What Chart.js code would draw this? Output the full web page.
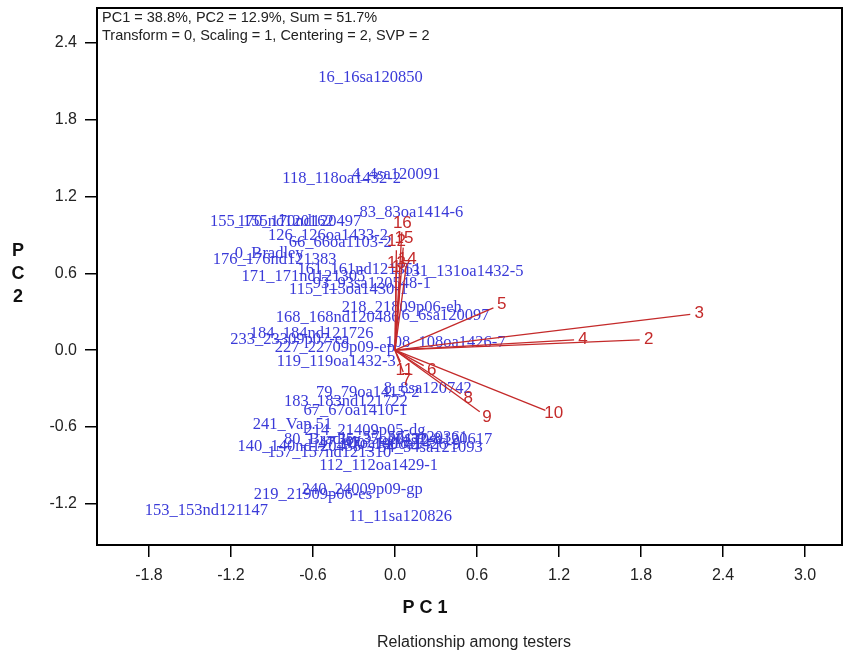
<!DOCTYPE html>
<html>
<head>
<meta charset="utf-8">
<script src="https://cdn.jsdelivr.net/npm/chart.js@4.4.1/dist/chart.umd.min.js"></script>
<style>
  body { margin: 0; background: #fff; }
  #wrap { width: 844px; height: 656px; }
</style>
</head>
<body>
<div id="wrap"><canvas id="biplot" width="844" height="656"></canvas></div>
<script>
// entries (blue labels) - position = centre of the label
const entryNames = [
  '16_16sa120850', '118_118oa1432-2', '4_4sa120091', '83_83oa1414-6',
  '155_155nd120162', '170_170nd120497', '126_126oa1433-2', '66_66oa1103-2',
  '176_176nd121383', '0_Bradley', '161_161nd121351', '131_131oa1432-5',
  '171_171nd121305', '93_93sa120548-1', '115_115oa1430-1', '218_21809p06-eh',
  '168_168nd120486', '6_6sa120097', '184_184nd121726', '233_23309p07-ea',
  '227_22709p09-ep', '108_108oa1426-7', '119_119oa1432-3', '79_79oa1415-2',
  '8_8sa120742', '183_183nd121722', '67_67oa1410-1', '241_Vap.51',
  '214_21409p05-dg', '140_140nd120435', '157_157nd121310', '80_Bradley',
  '47_47oa1418-1', '35_35oa1432-8', '100_100oa1426-9', '57_57sa120361',
  '54_54sa121093', '20_20sa120617', '112_112oa1429-1', '240_24009p09-gp',
  '219_21909p06-es', '153_153nd121147', '11_11sa120826'
];
const entryX = [
  -0.18, -0.39, 0.01, 0.12,
  -0.90, -0.70, -0.49, -0.40,
  -0.88, -0.92, -0.26, 0.50,
  -0.67, -0.17, -0.34, 0.05,
  -0.42, 0.37, -0.61, -0.77,
  -0.44, 0.37, -0.43, -0.20,
  0.24, -0.36, -0.29, -0.75,
  -0.22, -0.70, -0.48, -0.53,
  -0.18, -0.04, 0.04, 0.15,
  0.26, 0.33, -0.12, -0.24,
  -0.60, -1.38, 0.04
];
const entryY = [
  2.13, 1.34, 1.37, 1.07,
  1.00, 1.00, 0.89, 0.84,
  0.71, 0.75, 0.63, 0.61,
  0.57, 0.52, 0.47, 0.33,
  0.25, 0.27, 0.13, 0.08,
  0.02, 0.06, -0.09, -0.33,
  -0.30, -0.40, -0.47, -0.58,
  -0.63, -0.75, -0.80, -0.70,
  -0.73, -0.70, -0.74, -0.68,
  -0.76, -0.70, -0.90, -1.09,
  -1.13, -1.25, -1.30
];

// testers (red vectors from origin)
const testerNames = ['2', '3', '4', '5', '6', '7', '8', '9', '10', '11', '12', '13', '14', '15', '16', '17'];
const testerX = [1.79, 2.16, 1.31, 0.72, 0.21, 0.06, 0.48, 0.62, 1.10, 0.04, 0.01, 0.01, 0.08, 0.06, 0.05, 0.04];
const testerY = [0.08, 0.28, 0.08, 0.33, -0.12, -0.17, -0.34, -0.48, -0.47, -0.09, 0.78, 0.61, 0.64, 0.80, 0.92, 0.58];

const xTickValues = [-1.8, -1.2, -0.6, 0.0, 0.6, 1.2, 1.8, 2.4, 3.0];
const yTickValues = [-1.2, -0.6, 0.0, 0.6, 1.2, 1.8, 2.4];

const headerLines = [
  'PC1 = 38.8%, PC2 = 12.9%, Sum = 51.7%',
  'Transform = 0, Scaling = 1, Centering = 2, SVP = 2'
];
const xTitle = 'P C 1';
const yTitle = ['P', 'C', '2'];
const caption = 'Relationship among testers';

const blue = '#3a3ad8';
const red = '#c42a2a';

const datasets = [{
  label: 'entries',
  data: entryX.map((x, i) => ({ x: x, y: entryY[i] })),
  pointRadius: 0,
  showLine: false
}];
testerNames.forEach((name, i) => {
  datasets.push({
    label: 'tester ' + name,
    data: [{ x: 0, y: 0 }, { x: testerX[i], y: testerY[i] }],
    showLine: true,
    borderColor: red,
    borderWidth: 1.3,
    pointRadius: 0
  });
});

const biplotText = {
  id: 'biplotText',
  beforeDatasetsDraw(chart) {
    const ctx = chart.ctx;
    const meta = chart.getDatasetMeta(0);
    ctx.save();
    ctx.font = '16.5px "Liberation Serif", "Times New Roman", serif';
    ctx.fillStyle = blue;
    ctx.textAlign = 'center';
    ctx.textBaseline = 'middle';
    meta.data.forEach((pt, i) => ctx.fillText(entryNames[i], pt.x, pt.y));
    ctx.restore();
  },
  afterDatasetsDraw(chart) {
    const ctx = chart.ctx;
    const xs = chart.scales.x, ys = chart.scales.y;
    const ox = xs.getPixelForValue(0), oy = ys.getPixelForValue(0);
    ctx.save();
    ctx.font = '17px "Liberation Sans", Arial, sans-serif';
    ctx.fillStyle = red;
    ctx.textAlign = 'center';
    ctx.textBaseline = 'middle';
    testerNames.forEach((name, i) => {
      const ex = xs.getPixelForValue(testerX[i]);
      const ey = ys.getPixelForValue(testerY[i]);
      const dx = ex - ox, dy = ey - oy;
      const len = Math.hypot(dx, dy) || 1;
      ctx.fillText(name, ex + dx / len * 9, ey + dy / len * 9);
    });

    // frame
    const a = chart.chartArea;
    ctx.strokeStyle = '#000';
    ctx.lineWidth = 2;
    ctx.strokeRect(a.left, a.top, a.right - a.left, a.bottom - a.top);

    // header
    ctx.font = '14.5px "Liberation Sans", Arial, sans-serif';
    ctx.fillStyle = '#222';
    ctx.textAlign = 'left';
    headerLines.forEach((t, i) => ctx.fillText(t, a.left + 5, a.top + 10 + i * 18));
    ctx.restore();
  },
  afterDraw(chart) {
    const ctx = chart.ctx;
    ctx.save();
    ctx.fillStyle = '#111';
    ctx.textAlign = 'center';
    ctx.textBaseline = 'middle';
    ctx.font = 'bold 18px "Liberation Sans", Arial, sans-serif';
    ctx.fillText(xTitle, 425, 608);
    yTitle.forEach((c, i) => ctx.fillText(c, 18, 251 + i * 23));
    ctx.font = '16px "Liberation Sans", Arial, sans-serif';
    ctx.fillStyle = '#222';
    ctx.fillText(caption, 474, 643);
    ctx.restore();
  }
};

const ctx = document.getElementById('biplot').getContext('2d');
const biplot = new Chart(ctx, {
  type: 'scatter',
  data: { datasets: datasets },
  options: {
    responsive: false,
    animation: false,
    layout: { padding: { top: 8, right: 2, left: 0, bottom: 0 } },
    plugins: {
      legend: { display: false },
      tooltip: { enabled: false }
    },
    scales: {
      x: {
        type: 'linear',
        min: -2.18,
        max: 3.27,
        afterBuildTicks: s => { s.ticks = xTickValues.map(v => ({ value: v })); },
        afterFit: s => { s.height = 111; s.paddingLeft = 0; s.paddingRight = 0; },
        border: { display: false },
        grid: { drawOnChartArea: false, drawTicks: true, tickLength: 12, color: '#000', lineWidth: 1.5 },
        ticks: {
          autoSkip: false, maxRotation: 0, padding: 9, color: '#222',
          font: { family: '"Liberation Sans", Arial, sans-serif', size: 16 },
          callback: v => Number(v).toFixed(1)
        }
      },
      y: {
        type: 'linear',
        min: -1.52,
        max: 2.67,
        afterBuildTicks: s => { s.ticks = yTickValues.map(v => ({ value: v })); },
        afterFit: s => { s.width = 97; s.paddingTop = 0; s.paddingBottom = 0; },
        border: { display: false },
        grid: { drawOnChartArea: false, drawTicks: true, tickLength: 12, color: '#000', lineWidth: 1.5 },
        ticks: {
          autoSkip: false, padding: 8, color: '#222',
          font: { family: '"Liberation Sans", Arial, sans-serif', size: 16 },
          callback: v => Number(v).toFixed(1)
        }
      }
    }
  },
  plugins: [biplotText]
});
</script>
</body>
</html>
